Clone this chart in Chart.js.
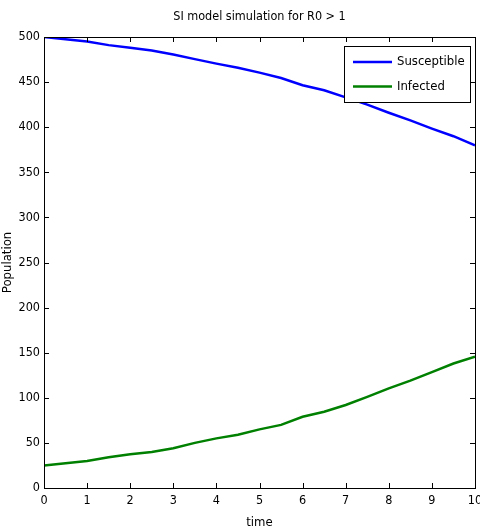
<!DOCTYPE html>
<html lang="en">
<head>
  <meta charset="UTF-8">
  <title>SI model simulation</title>
  <script src="https://cdn.jsdelivr.net/npm/chart.js"></script>
  <style>
    html, body { margin: 0; padding: 0; background: #fff; }
    #wrap { width: 480px; height: 532px; }
  </style>
</head>
<body>
  <div id="wrap"><canvas id="grafico"></canvas></div>

<script>
  // valores (passo de 0.5 no tempo)
  const tempos = [0, 0.5, 1, 1.5, 2, 2.5, 3, 3.5, 4, 4.5, 5, 5.5, 6, 6.5, 7, 7.5, 8, 8.5, 9, 9.5, 10]
  const suscetiveis = [500, 497.5, 495, 491, 488, 485, 480.5, 475.5, 470.5, 466, 460.5, 454.5, 446.5, 441, 433, 425, 416, 407.5, 398.5, 390, 380]
  const infectados = [25, 27.5, 30, 34, 37.5, 40, 44, 50, 55, 59, 65, 70, 79, 84.5, 92, 101, 110.5, 119, 128.5, 138, 145.5]
  const nomesSeries = ['Susceptible', 'Infected']
  const ticksX = [0, 1, 2, 3, 4, 5, 6, 7, 8, 9, 10]
  const ticksY = [0, 50, 100, 150, 200, 250, 300, 350, 400, 450, 500]

  const fonte = 'DejaVu Sans Condensed'

  // moldura + ticks para dentro (estilo matplotlib)
  const moldura = {
    id: 'moldura',
    afterDatasetsDraw(chart) {
      const ctx = chart.ctx
      const a = chart.chartArea
      const sx = chart.scales.x
      const sy = chart.scales.y
      const tam = 5
      ctx.save()
      ctx.strokeStyle = '#000'
      ctx.lineWidth = 1
      ctx.beginPath()
      sx.ticks.forEach(t => {
        const px = Math.round(sx.getPixelForValue(t.value)) + 0.5
        ctx.moveTo(px, a.bottom); ctx.lineTo(px, a.bottom - tam)
        ctx.moveTo(px, a.top); ctx.lineTo(px, a.top + tam)
      })
      sy.ticks.forEach(t => {
        const py = Math.round(sy.getPixelForValue(t.value)) + 0.5
        ctx.moveTo(a.left, py); ctx.lineTo(a.left + tam, py)
        ctx.moveTo(a.right, py); ctx.lineTo(a.right - tam, py)
      })
      ctx.stroke()
      ctx.strokeRect(Math.round(a.left) + 0.5, Math.round(a.top) + 0.5, Math.round(a.right - a.left), Math.round(a.bottom - a.top))
      ctx.restore()
    }
  }

  // legenda dentro da area do grafico, canto superior direito
  const legendaBox = {
    id: 'legendaBox',
    afterDraw(chart) {
      const ctx = chart.ctx
      const a = chart.chartArea
      const larg = 126, alt = 56
      const x0 = a.right - 5 - larg
      const y0 = a.top + 9
      ctx.save()
      ctx.fillStyle = '#fff'
      ctx.fillRect(x0, y0, larg, alt)
      ctx.strokeStyle = '#000'
      ctx.lineWidth = 1
      ctx.strokeRect(Math.round(x0) + 0.5, Math.round(y0) + 0.5, larg, alt)
      ctx.font = '13px "' + fonte + '"'
      ctx.textBaseline = 'middle'
      chart.data.datasets.forEach((ds, i) => {
        const ly = y0 + 16 + i * 24.5
        ctx.strokeStyle = ds.borderColor
        ctx.lineWidth = 2.5
        ctx.beginPath()
        ctx.moveTo(x0 + 9, ly)
        ctx.lineTo(x0 + 48, ly)
        ctx.stroke()
        ctx.fillStyle = '#000'
        ctx.fillText(ds.label, x0 + 53, ly)
      })
      ctx.restore()
    }
  }

  const ctx = document.getElementById('grafico').getContext('2d')

  new Chart(ctx, {
    type: 'line',
    data: {
      datasets: [{
        label: nomesSeries[0],
        data: tempos.map((t, i) => ({ x: t, y: suscetiveis[i] })),
        borderColor: '#0000ff',
        borderWidth: 2.5,
        pointRadius: 0,
        tension: 0
      }, {
        label: nomesSeries[1],
        data: tempos.map((t, i) => ({ x: t, y: infectados[i] })),
        borderColor: '#008000',
        borderWidth: 2.5,
        pointRadius: 0,
        tension: 0
      }]
    },
    options: {
      responsive: true,
      maintainAspectRatio: false,
      animation: false,
      layout: {
        autoPadding: false,
        padding: { left: 0, right: 5, top: 0, bottom: 0 }
      },
      plugins: {
        legend: { display: false },
        tooltip: { enabled: false },
        title: {
          display: true,
          fullSize: false,
          text: 'SI model simulation for R0 > 1',
          color: '#000',
          font: { family: fonte, size: 12.5, weight: 'normal', lineHeight: 1.2 },
          padding: { top: 9.5, bottom: 12.5 }
        }
      },
      scales: {
        x: {
          type: 'linear',
          min: 0,
          max: 10,
          afterFit(scale) {
            scale.height = 44
            scale.paddingLeft = 0
            scale.paddingRight = 0
          },
          afterBuildTicks(scale) { scale.ticks = ticksX.map(v => ({ value: v })) },
          grid: { display: false, drawTicks: false },
          border: { display: false },
          ticks: {
            color: '#000',
            padding: 5,
            autoSkip: false,
            maxRotation: 0,
            font: { family: fonte, size: 12.5 }
          },
          title: {
            display: true,
            text: 'time',
            color: '#000',
            padding: { top: 0, bottom: 2 },
            font: { family: fonte, size: 13 }
          }
        },
        y: {
          type: 'linear',
          min: 0,
          max: 500,
          afterFit(scale) {
            scale.width = 44
            scale.paddingTop = 0
            scale.paddingBottom = 0
          },
          afterBuildTicks(scale) { scale.ticks = ticksY.map(v => ({ value: v })) },
          grid: { display: false, drawTicks: false },
          border: { display: false },
          ticks: {
            color: '#000',
            padding: 4,
            autoSkip: false,
            font: { family: fonte, size: 12.5 }
          },
          title: {
            display: true,
            text: 'Population',
            color: '#000',
            padding: { top: 0, bottom: 0 },
            font: { family: fonte, size: 13 }
          }
        }
      }
    },
    plugins: [moldura, legendaBox]
  })
</script>
</body>
</html>
